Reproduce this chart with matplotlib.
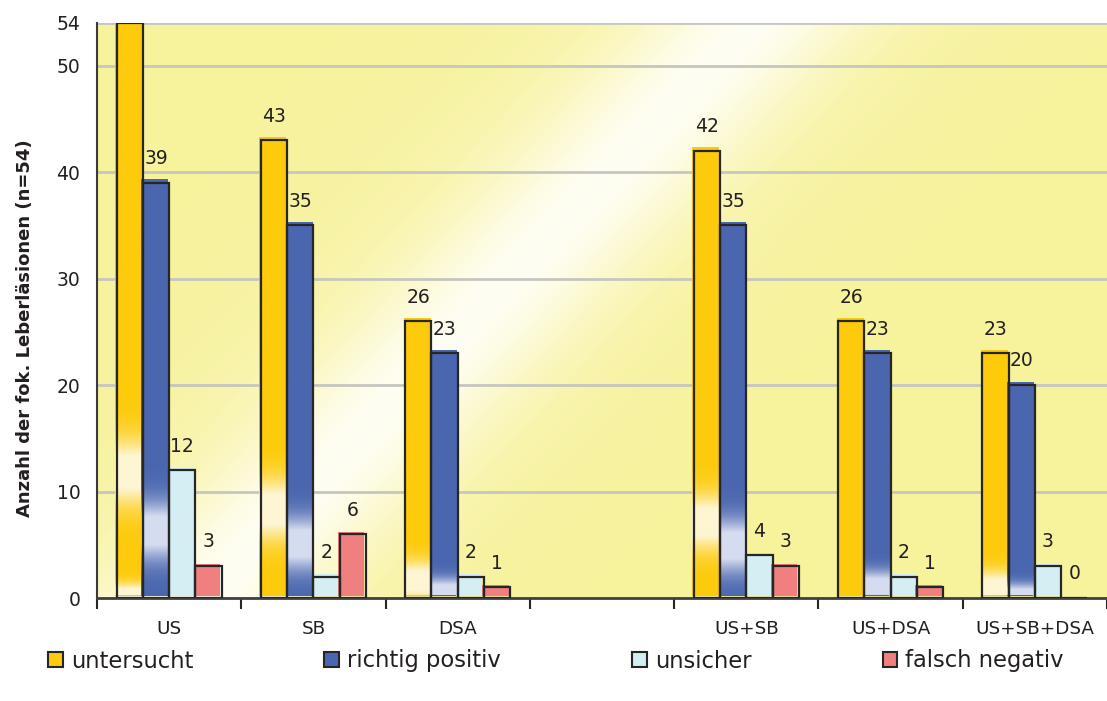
import numpy as np
import matplotlib
matplotlib.use('Agg')
import matplotlib.pyplot as plt
import matplotlib.colors as mcolors
import matplotlib.transforms as mtransforms
from matplotlib.patches import Patch

# data
categories = ['US', 'SB', 'DSA', '', 'US+SB', 'US+DSA', 'US+SB+DSA']
untersucht = [54, 43, 26, np.nan, 42, 26, 23]
richtig_positiv = [39, 35, 23, np.nan, 35, 23, 20]
unsicher = [12, 2, 2, np.nan, 4, 2, 3]
falsch_negativ = [3, 6, 1, np.nan, 3, 1, 0]
series_names = ['untersucht', 'richtig positiv', 'unsicher', 'falsch negativ']
yticks = [0, 10, 20, 30, 40, 50, 54]

# styling
colors = ['#FDCB0B', '#4A66AE', '#D4EEF4', '#F07F80']
light = {0: '#FEF5D2', 1: '#D5DCF0'}
# light bands inside the gradient bars: (centre, spread) in data units
bands = {
    0: {'US': [(0.0, 1.0), (11.5, 3.0)], 'SB': [(8.0, 2.8)], 'DSA': [(1.3, 1.8)],
        'US+SB': [(6.8, 2.5)], 'US+SB+DSA': [(0.6, 1.6)]},
    1: {'US': [(6.0, 2.6)], 'SB': [(4.8, 2.4)], 'DSA': [(0.3, 1.2)],
        'US+SB': [(4.6, 2.4)], 'US+DSA': [(0.8, 1.4)], 'US+SB+DSA': [(0.0, 1.0)]},
}
txt = '#231F20'
edge = '#262626'

plt.rcParams['font.family'] = ['DejaVu Sans']

W, H = 1107, 701
fig = plt.figure(figsize=(W / 100, H / 100), dpi=100)
ax = fig.add_axes([97 / W, 103 / H, 1010 / W, 575 / H])

# background: pale yellow with a diagonal light streak
px = np.arange(97, 1107)[None, :]
py = np.arange(23, 598)[:, None]
u = px + 0.95 * py
w = 0.75 * np.exp(-((u - 775) / 110.0) ** 2) + 0.25 * np.exp(-((u - 760) / 220.0) ** 2)
w = np.clip(w, 0, 1)[..., None]
c_bg = np.array(mcolors.to_rgb('#F7F29C'))
c_hi = np.array(mcolors.to_rgb('#FFFEF3'))
bg = c_bg * (1 - w) + c_hi * w
ax.imshow(bg, extent=(0, 1, 0, 1), transform=ax.transAxes, aspect='auto', zorder=0)

series = [untersucht, richtig_positiv, unsicher, falsch_negativ]
x = np.arange(len(categories))
bw = 0.182
fill_trans = ax.transData + mtransforms.ScaledTranslation(-0.015, 0.025, fig.dpi_scale_trans)

for i, vals in enumerate(series):
    xs = x + (i - 1.5) * bw
    vals = np.array(vals, dtype=float)
    ok = ~np.isnan(vals)
    fills = ax.bar(xs[ok], vals[ok], width=bw, color=colors[i], linewidth=0, zorder=2)
    for p in fills:
        p.set_transform(fill_trans)
    if i in bands:
        base = np.array(mcolors.to_rgb(colors[i]))
        hi = np.array(mcolors.to_rgb(light[i]))
        for cat, xi, v in zip(np.array(categories)[ok], xs[ok], vals[ok]):
            yy = np.linspace(0, v, 300)
            ww = np.zeros_like(yy)
            for cen, s in bands[i].get(cat, []):
                ww = np.maximum(ww, np.minimum(1, 1.3 * np.exp(-((yy - cen) / s) ** 2)))
            img = base * (1 - ww[:, None]) + hi * ww[:, None]
            ax.imshow(img[:, None, :], extent=(xi - bw / 2, xi + bw / 2, 0, v), origin='lower',
                      aspect='auto', transform=fill_trans, zorder=2.1)
    ax.bar(xs[ok], vals[ok], width=bw, facecolor='none', edgecolor=edge, linewidth=1.6, zorder=3)
    for xi, v in zip(xs[ok], vals[ok]):
        if v >= yticks[-1]:
            continue
        ax.annotate(f'{v:g}', (xi, v), xytext=(0, 10.5), textcoords='offset points',
                    ha='center', va='bottom', fontsize=13.5, color=txt, zorder=4)

ax.set_xlim(-0.5, 6.44)
ax.set_ylim(0, 54)
ax.set_yticks(yticks)
ax.set_xticks(x)
ax.set_xticklabels(categories)
ax.set_xticks(np.arange(-0.5, 7, 1), minor=True)
ax.tick_params(axis='x', which='major', length=0, pad=16, labelsize=13.2, labelcolor=txt)
ax.tick_params(axis='x', which='minor', length=8, width=1.5, color=edge, direction='out')
ax.tick_params(axis='y', length=0, pad=12, labelsize=13.5, labelcolor=txt)
ax.yaxis.grid(True, color='#C6C6C0', linewidth=2)
ax.set_axisbelow(True)
for s in ['top', 'right']:
    ax.spines[s].set_visible(False)
ax.spines['left'].set_color('#3a3a3a')
ax.spines['left'].set_linewidth(1.5)
ax.spines['bottom'].set_color('#404040')
ax.spines['bottom'].set_linewidth(2)

ax.set_ylabel('Anzahl der fok. Leberläsionen (n=54)', fontsize=13, fontweight='bold', color=txt)
ax.yaxis.set_label_coords(-0.062, 0.47)

handles = [Patch(facecolor=c, edgecolor=edge, linewidth=1.5) for c in colors]
fig.legend(handles, series_names, loc='center left', bbox_to_anchor=(48 / W, 40 / H),
           ncol=4, frameon=False, fontsize=16.3, handlelength=0.65, handleheight=0.65,
           handletextpad=0.35, columnspacing=5.8, borderpad=0, borderaxespad=0,
           labelcolor=txt)

fig.savefig('out.png', dpi=100)
